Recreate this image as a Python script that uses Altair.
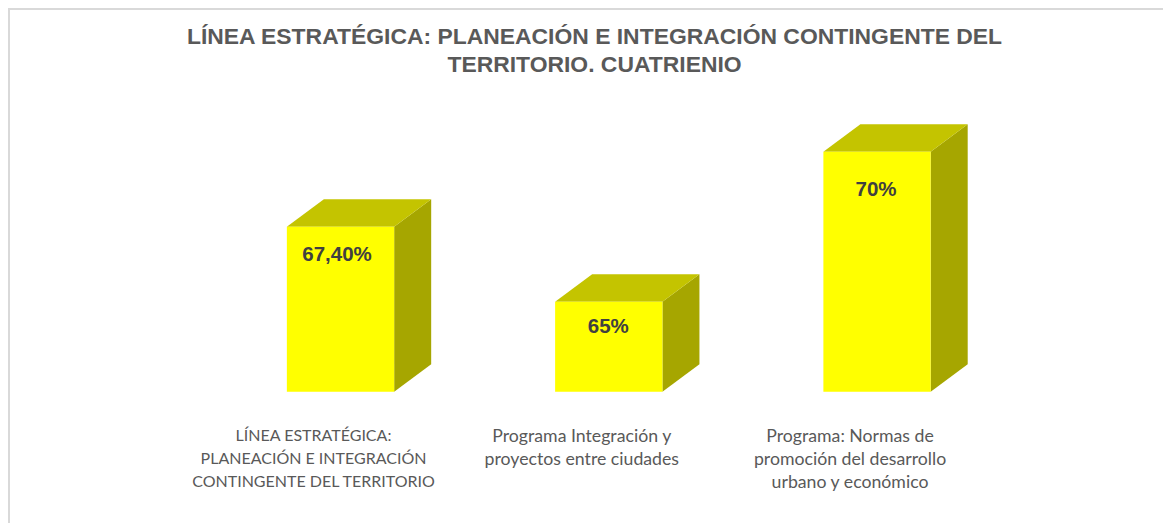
import altair as alt
import pandas as pd

categories = [
    "LÍNEA ESTRATÉGICA:\nPLANEACIÓN E INTEGRACIÓN\nCONTINGENTE DEL TERRITORIO",
    "Programa Integración y\nproyectos entre ciudades",
    "Programa: Normas de\npromoción del desarrollo\nurbano y económico",
]
values = [67.5, 65.0, 70.0]
value_labels = ["67,40%", "65%", "70%"]
title_lines = [
    "LÍNEA ESTRATÉGICA: PLANEACIÓN E INTEGRACIÓN CONTINGENTE DEL",
    "TERRITORIO. CUATRIENIO",
]

BASE = 62.0
HALF = 0.2
DEPTH_X = 0.138
DEPTH_Y = 0.917
PX_X = 268.25
PX_Y = 30.0
# hand-placed data labels in the original: offset from bar centre / bar top, in pixels
LABEL_SHIFT = [(-3.5, 28), (-0.5, 25), (-1, 38)]

front, top, side = [], [], []
for i, v in enumerate(values):
    l, r = i - HALF, i + HALF
    front.append({
        "l": l, "r": r, "v": v, "b": BASE, "label": value_labels[i], "cat": categories[i], "i": i,
        "lx": i + LABEL_SHIFT[i][0] / PX_X, "ly": v - LABEL_SHIFT[i][1] / PX_Y,
    })
    for x, lo, hi in [
        (l, v, v),
        (l + DEPTH_X, v, v + DEPTH_Y),
        (r, v, v + DEPTH_Y),
        (r + DEPTH_X, v + DEPTH_Y, v + DEPTH_Y),
    ]:
        top.append({"i": i, "x": x, "lo": lo, "hi": hi})
    for x, lo, hi in [
        (r, BASE, v),
        (r + DEPTH_X, BASE + DEPTH_Y, v + DEPTH_Y),
    ]:
        side.append({"i": i, "x": x, "lo": lo, "hi": hi})

xs = alt.Scale(domain=[-1.2395, 3.066], nice=False, zero=False)
ys = alt.Scale(domain=[57.623, 74.79], nice=False, zero=False)
X = alt.X("x:Q", scale=xs, axis=None)
Y = alt.Y("hi:Q", scale=ys, axis=None)

front_df = pd.DataFrame(front)

side_m = alt.Chart(pd.DataFrame(side)).mark_area(color="#A6A600", interpolate="linear", opacity=1).encode(
    x=X, y=Y, y2="lo:Q", detail="i:N")
top_m = alt.Chart(pd.DataFrame(top)).mark_area(color="#C4C400", interpolate="linear", opacity=1).encode(
    x=X, y=Y, y2="lo:Q", detail="i:N")
bars = alt.Chart(front_df).mark_rect(color="#FFFF00").encode(
    x=alt.X("l:Q", scale=xs, axis=None), x2="r:Q",
    y=alt.Y("v:Q", scale=ys, axis=None), y2="b:Q")
val_text = alt.Chart(front_df).mark_text(
    font="Liberation Sans", fontWeight="bold", fontSize=20.5, color="#404040",
    baseline="middle", align="center").encode(
    x=alt.X("lx:Q", scale=xs, axis=None), y=alt.Y("ly:Q", scale=ys, axis=None), text="label:N")


def cat_layer(df, size):
    return alt.Chart(df).mark_text(
        font="Lato", fontSize=size, color="#595959", baseline="top", align="center",
        lineBreak="\n", lineHeight=23, dx=-27).encode(
        x=alt.X("i:Q", scale=xs, axis=None), y=alt.value(420), text="cat:N")


cat_caps = cat_layer(front_df[front_df.i == 0], 16)
cat_lower = cat_layer(front_df[front_df.i != 0], 17.7)

frame_left = alt.Chart(front_df.head(1)).mark_rule(color="#D9D9D9", strokeWidth=4).encode(
    x=alt.value(0), y=alt.value(0), y2=alt.value(515))
frame_top = alt.Chart(front_df.head(1)).mark_rule(color="#D9D9D9", strokeWidth=4).encode(
    x=alt.value(0), x2=alt.value(1155), y=alt.value(0))

chart = alt.layer(side_m, top_m, bars, val_text, cat_caps, cat_lower, frame_left, frame_top).properties(
    width=1155, height=515,
    padding=0,
    autosize=alt.AutoSizeParams(type="none"),
    title=alt.TitleParams(
        text=title_lines, font="Liberation Sans", fontSize=22.9, fontWeight="bold",
        color="#595959", anchor="middle", offset=-71, dx=9, lineHeight=28),
).configure_view(stroke=None)

chart.save("out.html", embed_options={"renderer": "svg", "actions": False})
